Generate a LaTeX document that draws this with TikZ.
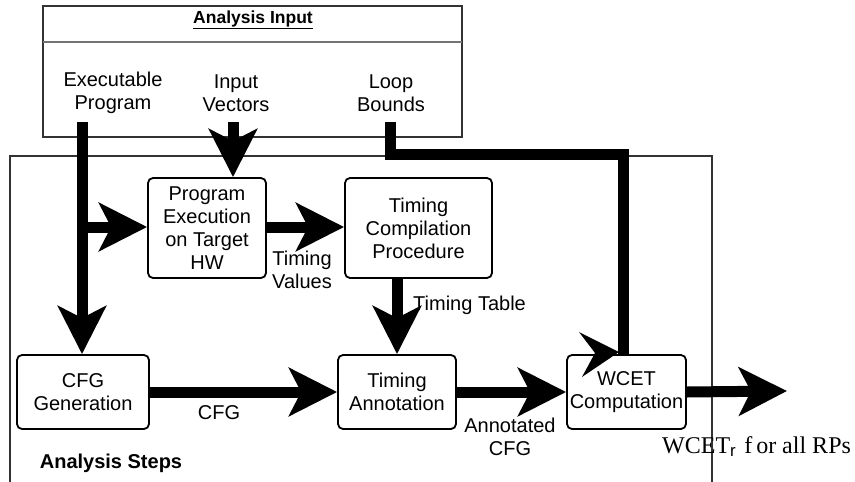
\documentclass[tikz,border=0pt]{standalone}
\usepackage{fontspec}
\setmainfont{Liberation Sans}
\newfontfamily\timesfont{Liberation Serif}
\usetikzlibrary{arrows.meta,calc}
\begin{document}
\begin{tikzpicture}[x=1pt,y=-1pt,
  stepbox/.style={draw=black,line width=1.8pt,rounded corners=5pt,fill=white,
    align=center,inner sep=0pt,font=\fontsize{20}{23}\selectfont,minimum height=74pt},
  lbl/.style={align=center,inner sep=0pt,font=\fontsize{20}{23}\selectfont},
  frame/.style={draw=black!80,line width=1.3pt},
  flow/.style={line width=11pt,-{Stealth[length=48pt,width=48pt,inset=12pt]}},
  bar/.style={line width=11pt}]
\useasboundingbox (0,0) rectangle (855,482);

% frames
\draw[frame] (43,137) -- (43,6) -- (462,6) -- (462,137) -- cycle;
\draw[draw=black!55,line width=1.2pt] (43,42) -- (462,42);
\draw[frame] (10,482) -- (10,156) -- (712,156) -- (712,482);

% inputs
\node[font=\bfseries\fontsize{17.5}{20}\selectfont] (ain) at (253,20) {\underline{Analysis Input}};
\node[lbl] (exe) at (113,93) {Executable\\Program};
\node[lbl] (inv) at (236,93) {Input\\Vectors};
\node[lbl] (lb) at (391,93) {Loop\\Bounds};
\coordinate (exeo) at (82,122);
\coordinate (invo) at (233,122);
\coordinate (lbo) at (390,122);

% analysis steps
\node[stepbox,minimum width=118pt,minimum height=100pt] (pe) at (207,228) {Program\\Execution\\on Target\\HW};
\node[stepbox,minimum width=147pt,minimum height=100pt] (tc) at (418.5,228) {Timing\\Compilation\\Procedure};
\node[stepbox,minimum width=132pt] (cfg) at (83,392) {CFG\\Generation};
\node[stepbox,minimum width=118pt] (ta) at (397,392) {Timing\\Annotation};
\node[stepbox,minimum width=119pt] (wc) at (626.5,392) {WCET\\Computation};

\coordinate (br) at (82,227);
\coordinate (out) at (787,391);
\coordinate (lbc) at (623,154);

% connectors
\draw[flow] (exeo) -- (exeo |- cfg.north);
\draw[flow] (br) -- (pe.west |- br);
\draw[flow] (invo) -- (invo |- pe.north);
\draw[flow] (pe.east |- br) -- (tc.west |- br);
\draw[flow] (ta.north |- tc.south) -- (ta.north);
\draw[flow] (cfg.east) -- (ta.west);
\draw[flow] (ta.east) -- (wc.west);
\draw[flow] (wc.east) -- (out);
\draw[bar] (lbo) |- (lbc) -- (lbc |- wc.north);
\fill (619,352) -- (579,332) -- (595,353) -- (582,377) -- cycle;

% labels
\node[lbl] (tv) at (302,270) {Timing\\Values};
\node[lbl,anchor=west] (tt) at (413,305) {Timing Table};
\node[lbl] (cl) at (219,413) {CFG};
\node[lbl] (acl) at (510,437) {Annotated\\CFG};
\node[font=\bfseries\fontsize{20}{23}\selectfont] (as) at (111,463) {Analysis Steps};
\node[anchor=base west,inner sep=0pt,font=\timesfont\fontsize{24}{28}\selectfont] (res) at (662,453) {WCET$_{\mathrm{r}}$\,\,f\,or all RPs};
\end{tikzpicture}
\end{document}
